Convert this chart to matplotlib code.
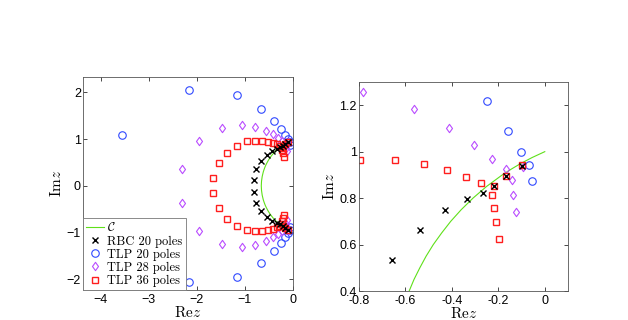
import matplotlib
matplotlib.use("Agg")
import matplotlib.pyplot as plt
from matplotlib.path import Path
from matplotlib.ticker import FormatStrFormatter

plt.rcParams['mathtext.fontset'] = 'cm'
plt.rcParams['font.family'] = ['Liberation Sans', 'DejaVu Sans']

# contour C
c_re = [0.0, -0.054, -0.102, -0.144, -0.183, -0.251, -0.309, -0.360, -0.405, -0.444, -0.480,
        -0.511, -0.538, -0.563, -0.584, -0.602, -0.618, -0.641, -0.655, -0.660,
        -0.655, -0.641, -0.618, -0.602, -0.584, -0.563, -0.538, -0.511, -0.480, -0.444,
        -0.405, -0.360, -0.309, -0.251, -0.183, -0.144, -0.102, -0.054, 0.0]
c_im = [1.0, 0.975, 0.95, 0.925, 0.9, 0.85, 0.8, 0.75, 0.7, 0.65, 0.6,
        0.55, 0.5, 0.45, 0.4, 0.35, 0.3, 0.2, 0.1, 0.0,
        -0.1, -0.2, -0.3, -0.35, -0.4, -0.45, -0.5, -0.55, -0.6, -0.65,
        -0.7, -0.75, -0.8, -0.85, -0.9, -0.925, -0.95, -0.975, -1.0]

# RBC 20 poles
rbc_re = [-0.82, -0.76, -0.66, -0.539, -0.429, -0.335, -0.266, -0.218, -0.167, -0.100,
          -0.82, -0.76, -0.66, -0.539, -0.429, -0.335, -0.266, -0.218, -0.167, -0.100]
rbc_im = [0.13, 0.36, 0.533, 0.663, 0.747, 0.797, 0.823, 0.854, 0.894, 0.940,
          -0.13, -0.36, -0.533, -0.663, -0.747, -0.797, -0.823, -0.854, -0.894, -0.940]

# TLP 20 poles
t20_re = [-3.55, -2.16, -1.155, -0.66, -0.39, -0.247, -0.158, -0.101, -0.068, -0.057,
          -3.55, -2.16, -1.155, -0.66, -0.39, -0.247, -0.158, -0.101, -0.068, -0.057]
t20_im = [1.08, 2.06, 1.95, 1.65, 1.39, 1.219, 1.089, 1.0, 0.941, 0.874,
          -1.08, -2.06, -1.95, -1.65, -1.39, -1.219, -1.089, -1.0, -0.941, -0.874]

# TLP 28 poles
t28_re = [-2.30, -1.95, -1.48, -1.07, -0.781, -0.563, -0.412, -0.305, -0.227, -0.165, -0.142, -0.137, -0.122, -0.095,
          -2.30, -1.95, -1.48, -1.07, -0.781, -0.563, -0.412, -0.305, -0.227, -0.165, -0.142, -0.137, -0.122, -0.095]
t28_im = [0.37, 0.96, 1.24, 1.31, 1.259, 1.183, 1.101, 1.030, 0.970, 0.924, 0.876, 0.814, 0.740, 0.935,
          -0.37, -0.96, -1.24, -1.31, -1.259, -1.183, -1.101, -1.030, -0.970, -0.924, -0.876, -0.814, -0.740, -0.935]

# TLP 36 poles
t36_re = [-1.67, -1.55, -1.37, -1.17, -0.96, -0.796, -0.643, -0.520, -0.421, -0.341, -0.274, -0.218, -0.228,
          -0.219, -0.208, -0.195, -0.167, -0.100,
          -1.67, -1.55, -1.37, -1.17, -0.96, -0.796, -0.643, -0.520, -0.421, -0.341, -0.274, -0.218, -0.228,
          -0.219, -0.208, -0.195, -0.167, -0.100]
t36_im = [0.16, 0.48, 0.71, 0.86, 0.95, 0.964, 0.964, 0.946, 0.920, 0.891, 0.863, 0.854, 0.814,
          0.759, 0.697, 0.624, 0.894, 0.943,
          -0.16, -0.48, -0.71, -0.86, -0.95, -0.964, -0.964, -0.946, -0.920, -0.891, -0.863, -0.854, -0.814,
          -0.759, -0.697, -0.624, -0.894, -0.943]

green = '#5fe01a'
blue = '#2f48ff'
purple = '#b94cff'
red = '#ff1e1e'

# matlab-like diamond (wider than mpl 'd')
diamond = Path([(0, 1), (0.72, 0), (0, -1), (-0.72, 0), (0, 1)],
               [Path.MOVETO, Path.LINETO, Path.LINETO, Path.LINETO, Path.CLOSEPOLY])


def draw(ax):
    ax.plot(c_re, c_im, color=green, lw=0.8, label=r'$\mathcal{C}$', zorder=1)
    ax.plot(rbc_re, rbc_im, 'x', color='k', ms=3.8, mew=1.0, label='RBC 20 poles', zorder=5)
    ax.plot(t20_re, t20_im, 'o', mfc='none', mec=blue, ms=5.4, mew=0.8, label='TLP 20 poles')
    ax.plot(t28_re, t28_im, marker=diamond, ls='none', mfc='none', mec=purple, ms=6.0, mew=0.8,
            label='TLP 28 poles')
    ax.plot(t36_re, t36_im, 's', mfc='none', mec=red, ms=4.5, mew=1.0, label='TLP 36 poles')
    ax.tick_params(direction='in', top=True, right=True, length=3, width=0.5, labelsize=9)
    ax.tick_params(axis='x', pad=3)
    ax.tick_params(axis='y', pad=1.5)
    for s in ax.spines.values():
        s.set_linewidth(0.6)
        s.set_color('#555555')
    ax.set_xlabel(r'$\mathrm{Re}z$', fontsize=11, labelpad=-0.5)
    ax.set_ylabel(r'$\mathrm{Im}z$', fontsize=11, labelpad=2)


fig = plt.figure(figsize=(6.28, 3.2), dpi=100)

ax1 = fig.add_axes([83 / 628, 30 / 320, 210 / 628, 213 / 320])
draw(ax1)
ax1.set_xlim(-4.37, 0)
ax1.set_ylim(-2.23, 2.33)
ax1.set_xticks([-4, -3, -2, -1, 0])
ax1.set_yticks([-2, -1, 0, 1, 2])
leg = ax1.legend(loc='lower left', borderaxespad=0, prop={'family': 'cmr10', 'size': 9},
                 handlelength=1.4, handletextpad=0.3, labelspacing=0.08, borderpad=0.25,
                 fancybox=False, framealpha=1, edgecolor='#777777')
leg.get_frame().set_linewidth(0.6)
leg.set_zorder(10)

ax2 = fig.add_axes([359 / 628, 29 / 320, 209 / 628, 209 / 320])
draw(ax2)
ax2.set_xlim(-0.8, 0.1)
ax2.set_ylim(0.4, 1.3)
ax2.set_xticks([-0.8, -0.6, -0.4, -0.2, 0])
ax2.set_yticks([0.4, 0.6, 0.8, 1.0, 1.2])
ax2.xaxis.set_major_formatter(FormatStrFormatter('%g'))
ax2.yaxis.set_major_formatter(FormatStrFormatter('%g'))

fig.savefig('out.png', dpi=100)
